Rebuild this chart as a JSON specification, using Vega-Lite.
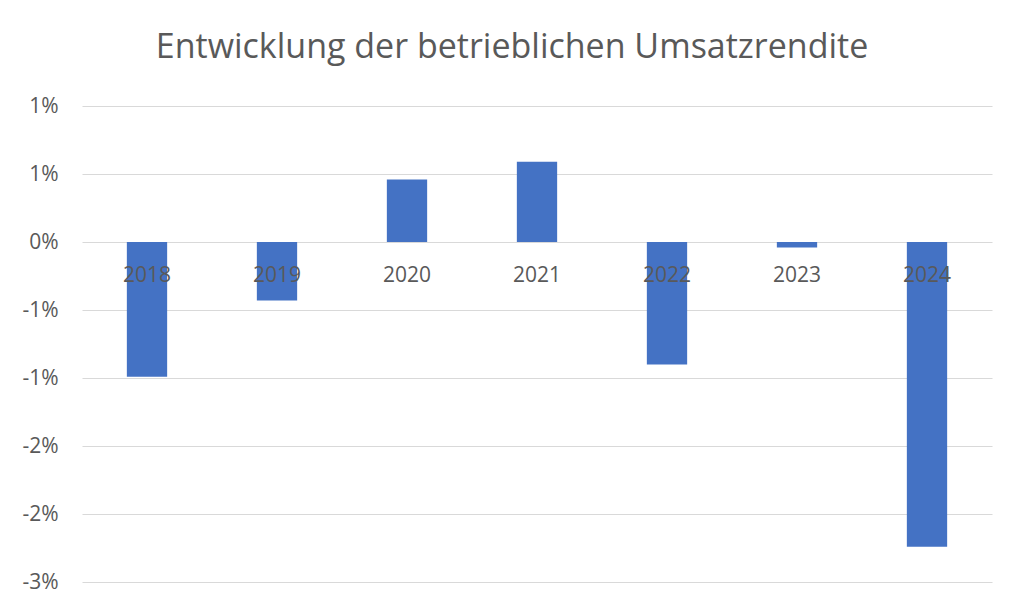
{
  "$schema": "https://vega.github.io/schema/vega-lite/v6.json",
  "autosize": {"type": "none"},
  "width": 910,
  "height": 476,
  "padding": {"left": 82, "top": 106, "right": 32, "bottom": 33},
  "background": "white",
  "title": {
    "text": "Entwicklung der betrieblichen Umsatzrendite",
    "font": "Open Sans",
    "fontSize": 34,
    "fontWeight": "normal",
    "color": "#595959",
    "anchor": "middle",
    "frame": "group",
    "dx": -25,
    "offset": 30
  },
  "config": {"view": {"stroke": null}},
  "data": {
    "values": [
      {"year": "2018", "value": -0.0099},
      {"year": "2019", "value": -0.0043},
      {"year": "2020", "value": 0.0046},
      {"year": "2021", "value": 0.0059},
      {"year": "2022", "value": -0.0090},
      {"year": "2023", "value": -0.0004},
      {"year": "2024", "value": -0.0224}
    ]
  },
  "layer": [
    {
      "mark": {"type": "bar", "color": "#4472C4"},
      "encoding": {
        "x": {
          "field": "year", "type": "nominal", "sort": null,
          "scale": {"paddingInner": 0.69, "paddingOuter": 0.345},
          "axis": null
        },
        "y": {
          "field": "value", "type": "quantitative",
          "scale": {"domain": [-0.025, 0.01], "nice": false, "zero": false},
          "axis": {
            "title": null,
            "values": [-0.025, -0.02, -0.015, -0.01, -0.005, 0, 0.005, 0.01],
            "format": ".0%",
            "labelExpr": "replace(datum.label, '\u2212', '-')",
            "ticks": false,
            "domain": false,
            "labelPadding": 24,
            "labelFont": "Open Sans",
            "labelFontSize": 21,
            "labelColor": "#595959",
            "gridColor": "#D9D9D9",
            "gridWidth": 1
          }
        }
      }
    },
    {
      "mark": {"type": "text", "dy": 34, "baseline": "middle", "font": "Open Sans", "fontSize": 21, "color": "#595959"},
      "encoding": {
        "x": {"field": "year", "type": "nominal", "sort": null},
        "y": {"datum": 0, "type": "quantitative"},
        "text": {"field": "year"}
      }
    }
  ]
}
